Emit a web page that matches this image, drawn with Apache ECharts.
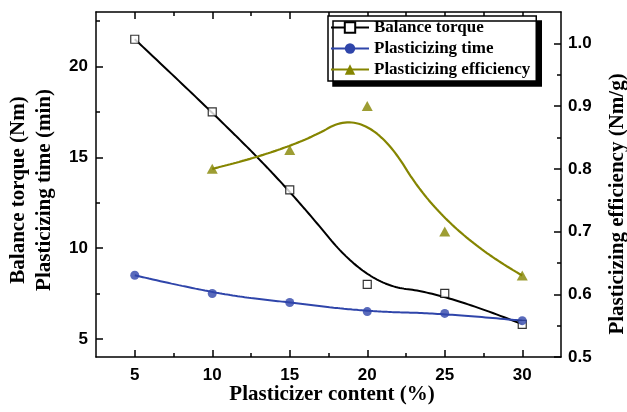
<!DOCTYPE html>
<html>
<head>
<meta charset="utf-8">
<script src="https://cdn.jsdelivr.net/npm/echarts@6/dist/echarts.min.js"></script>
<style>
  html, body { margin: 0; padding: 0; background: #fff; }
  #chart { width: 627px; height: 412px; }
</style>
</head>
<body>
<div id="chart"></div>
<script>
// Plasticizer content (%) and the measured quantities
const contentPct = [5, 10, 15, 20, 25, 30];
const balanceTorque = [21.5, 17.5, 13.2, 8.0, 7.5, 5.8];      // Nm
const plasticizingTime = [8.5, 7.5, 7.0, 6.5, 6.4, 6.0];      // min
const effContent = [10, 15, 20, 25, 30];
const plasticizingEff = [0.80, 0.83, 0.90, 0.70, 0.63];       // Nm/g

// Tick positions
const xMajorTicks = [5, 10, 15, 20, 25, 30];
const xMinorTicks = [7.5, 12.5, 17.5, 22.5, 27.5];
const leftMajorTicks = [5, 10, 15, 20];
const leftMinorTicks = [7.5, 12.5, 17.5, 22.5];
const rightMajorTicks = [0.5, 0.6, 0.7, 0.8, 0.9, 1.0];
const rightMinorTicks = [0.55, 0.65, 0.75, 0.85, 0.95];

// Axis titles
const xTitle = 'Plasticizer content (%)';
const leftTitles = ['Balance torque (Nm)', 'Plasticizing time (min)'];
const rightTitle = 'Plasticizing efficiency (Nm/g)';

// Clamped uniform B-spline with the data points as control points
function bspline(pts, degree, samples) {
  const n = pts.length;
  const k = Math.min(degree, n - 1);
  const knots = [];
  for (let i = 0; i < n + k + 1; i++) knots.push(i <= k ? 0 : (i >= n ? n - k : i - k));
  const uMax = n - k;
  const out = [];
  for (let s = 0; s <= samples; s++) {
    const u = uMax * s / samples;
    let span = k;
    while (span < n - 1 && knots[span + 1] <= u) span++;
    const d = [];
    for (let j = 0; j <= k; j++) d.push(pts[j + span - k].slice());
    for (let r = 1; r <= k; r++) {
      for (let j = k; j >= r; j--) {
        const i = j + span - k;
        const den = knots[i + k + 1 - r] - knots[i];
        const a = den === 0 ? 0 : (u - knots[i]) / den;
        d[j] = [(1 - a) * d[j - 1][0] + a * d[j][0], (1 - a) * d[j - 1][1] + a * d[j][1]];
      }
    }
    out.push(d[k]);
  }
  return out;
}

const zip = (xs, ys) => xs.map((x, i) => [x, ys[i]]);
const torquePts = zip(contentPct, balanceTorque);
const timePts = zip(contentPct, plasticizingTime);
const effPts = zip(effContent, plasticizingEff);

const BLACK = '#000';
const BLUE = '#2f45aa';
const OLIVE = '#858500';
const tickFont = { fontFamily: 'Liberation Sans', fontWeight: 'bold', fontSize: 17, color: '#000' };
const titleStyle = { font: 'bold 21px "Liberation Serif"', fill: '#000', align: 'center', verticalAlign: 'middle' };
const axisLine = { show: true, onZero: false, lineStyle: { color: '#000', width: 1.5 } };

function tickAxis(base, values, len, withLine) {
  return Object.assign({
    type: 'value',
    axisLine: withLine ? axisLine : { show: false, onZero: false },
    axisTick: { show: true, inside: true, length: len, customValues: values, lineStyle: { color: '#000', width: 1.5 } },
    axisLabel: { show: false },
    splitLine: { show: false }
  }, base);
}

function titleText(text, x, y, rotation) {
  return { type: 'text', x: x, y: y, rotation: rotation, silent: true,
           style: Object.assign({ text: text }, titleStyle) };
}

const chart = echarts.init(document.getElementById('chart'), null, { renderer: 'canvas' });

chart.setOption({
  animation: false,
  backgroundColor: '#fff',
  grid: { left: 96, right: 66, top: 12, bottom: 55, containLabel: false, outerBoundsMode: 'none' },
  legend: {
    orient: 'vertical',
    left: 328, top: 16,
    itemWidth: 38, itemHeight: 13, itemGap: 4,
    padding: [3, 6, 3, 2],
    borderColor: '#000', borderWidth: 1.5,
    backgroundColor: '#fff',
    shadowColor: '#000', shadowBlur: 0, shadowOffsetX: 5, shadowOffsetY: 5,
    textStyle: { fontFamily: 'Liberation Serif', fontWeight: 'bold', fontSize: 17, color: '#000' },
    data: ['Balance torque', 'Plasticizing time', 'Plasticizing efficiency']
  },
  graphic: [
    titleText(xTitle, 332, 395, 0),
    titleText(leftTitles[0], 19, 190, Math.PI / 2),
    titleText(leftTitles[1], 45, 190, Math.PI / 2),
    titleText(rightTitle, 618, 204, Math.PI / 2)
  ],
  xAxis: [
    Object.assign(tickAxis({ position: 'bottom', min: 2.5, max: 32.5 }, xMajorTicks, 7, true), {
      axisLabel: Object.assign({ show: true, margin: 10, customValues: xMajorTicks }, tickFont)
    }),
    tickAxis({ position: 'bottom', min: 2.5, max: 32.5 }, xMinorTicks, 4, false),
    tickAxis({ position: 'top', min: 2.5, max: 32.5 }, xMajorTicks, 7, true),
    tickAxis({ position: 'top', min: 2.5, max: 32.5 }, xMinorTicks, 4, false)
  ],
  yAxis: [
    Object.assign(tickAxis({ position: 'left', min: 4, max: 23 }, leftMajorTicks, 7, true), {
      axisLabel: Object.assign({ show: true, margin: 8, customValues: leftMajorTicks }, tickFont)
    }),
    tickAxis({ position: 'left', min: 4, max: 23 }, leftMinorTicks, 4, false),
    Object.assign(tickAxis({ position: 'right', min: 0.5, max: 1.05 }, rightMajorTicks, 7, true), {
      axisLabel: Object.assign({ show: true, margin: 7, customValues: rightMajorTicks,
        formatter: v => v.toFixed(1) }, tickFont)
    }),
    tickAxis({ position: 'right', min: 0.5, max: 1.05 }, rightMinorTicks, 4, false)
  ],
  series: [
    {
      name: 'Balance torque', type: 'line', xAxisIndex: 0, yAxisIndex: 0,
      data: bspline(torquePts, 2, 300), showSymbol: false, symbol: 'rect',
      lineStyle: { color: BLACK, width: 2 },
      itemStyle: { color: '#fff', borderColor: BLACK, borderWidth: 1.2 },
      z: 2
    },
    {
      name: 'Plasticizing time', type: 'line', xAxisIndex: 0, yAxisIndex: 0,
      data: bspline(timePts, 2, 300), showSymbol: false, symbol: 'circle',
      lineStyle: { color: BLUE, width: 2 },
      itemStyle: { color: BLUE },
      z: 3
    },
    {
      name: 'Plasticizing efficiency', type: 'line', xAxisIndex: 0, yAxisIndex: 2,
      data: bspline(effPts, 2, 300), showSymbol: false, symbol: 'triangle',
      lineStyle: { color: OLIVE, width: 2.2 },
      itemStyle: { color: OLIVE },
      z: 4
    },
    {
      type: 'scatter', xAxisIndex: 0, yAxisIndex: 0, data: torquePts,
      symbol: 'rect', symbolSize: 8,
      itemStyle: { color: '#fff', borderColor: BLACK, borderWidth: 1.2 }, z: 5
    },
    {
      type: 'scatter', xAxisIndex: 0, yAxisIndex: 0, data: timePts,
      symbol: 'circle', symbolSize: 9,
      itemStyle: { color: BLUE }, z: 6
    },
    {
      type: 'scatter', xAxisIndex: 0, yAxisIndex: 2, data: effPts,
      symbol: 'triangle', symbolSize: [11, 10],
      itemStyle: { color: OLIVE }, z: 7
    }
  ]
});
</script>
</body>
</html>
